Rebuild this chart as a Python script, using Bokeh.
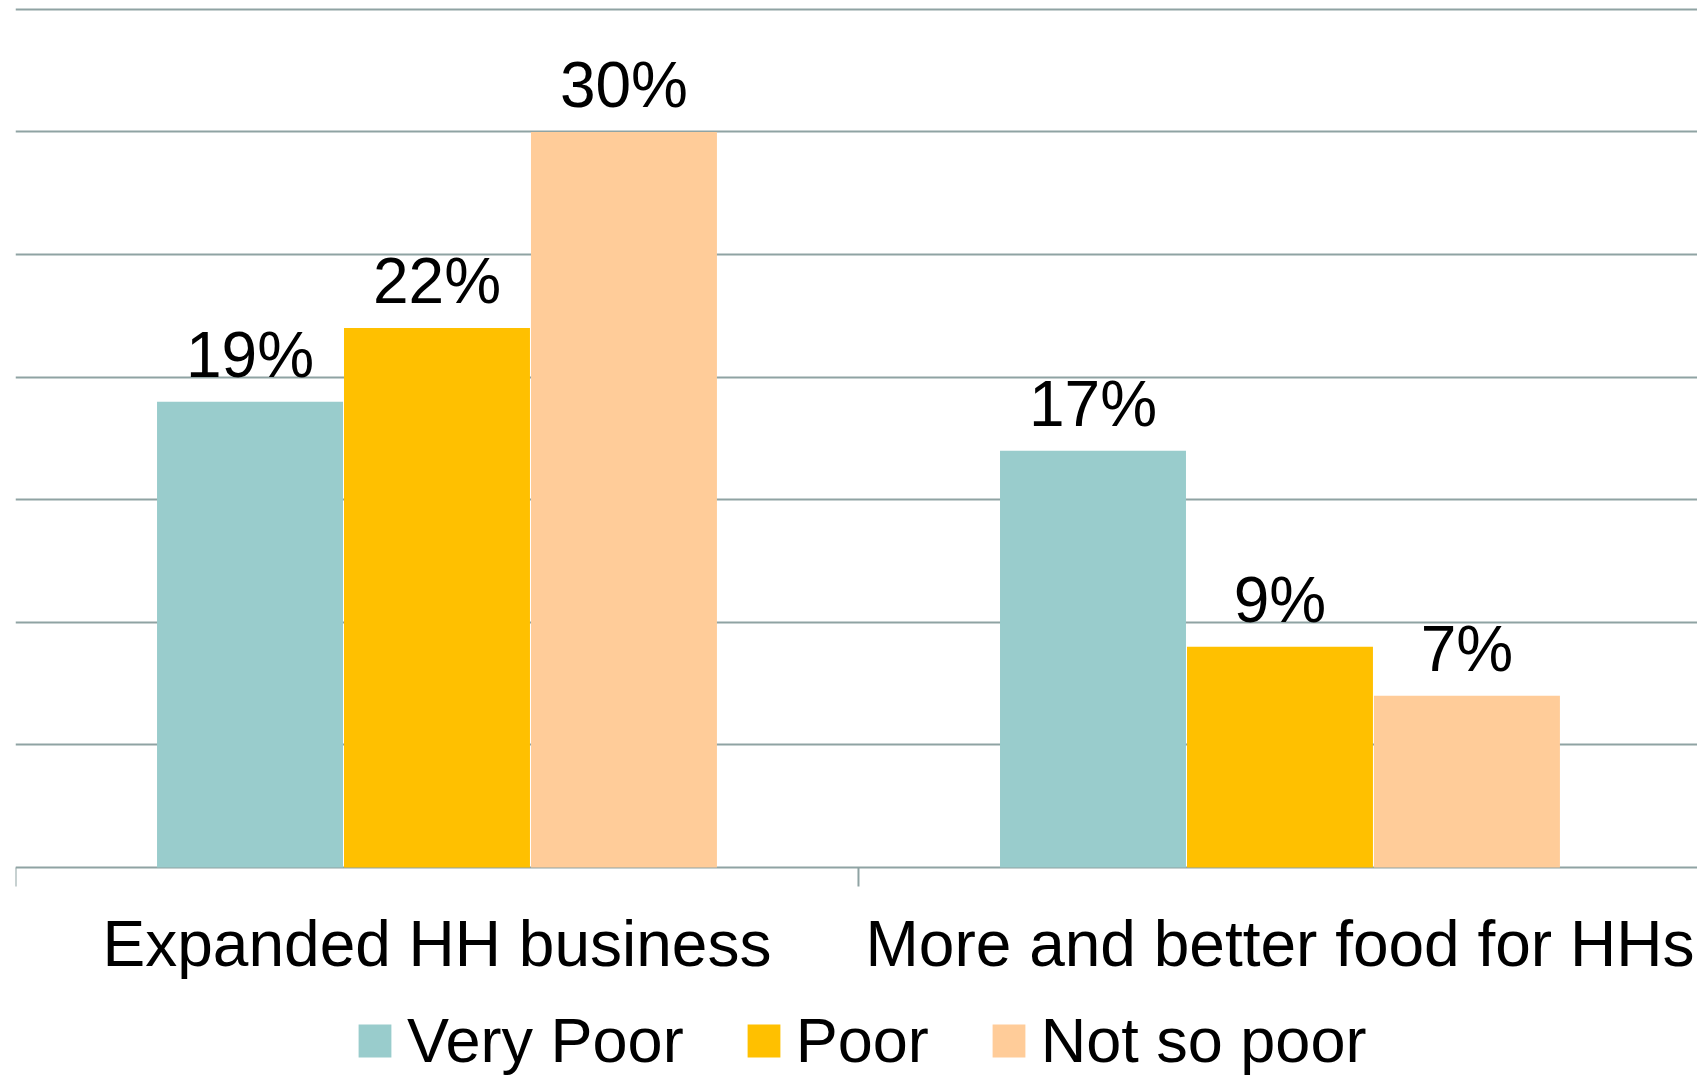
from bokeh.plotting import figure
from bokeh.models import (ColumnDataSource, FixedTicker, Grid, Legend, LegendItem, Range1d)
from bokeh.embed import file_html
from bokeh.resources import INLINE
from bokeh.core.properties import value

categories = ["Expanded HH business", "More and better food for HHs"]
series = ["Very Poor", "Poor", "Not so poor"]
very_poor = [19, 17]
poor = [22, 9]
not_so_poor = [30, 7]
y_ticks = [0, 5, 10, 15, 20, 25, 30, 35]
colors = ["#99CCCC", "#FFC000", "#FFCC99"]

FONT = "Liberation Sans"
FS = "64px"
GRID_C = "#8FA3A3"

W, H = 1697, 1076
Y_TOP, Y_BOTTOM = 35.36, -8.524          # frame spans the whole canvas height
PX = (Y_TOP - Y_BOTTOM) / H               # data units per pixel

p = figure(width=W, height=H, output_backend="svg", toolbar_location=None,
           x_axis_location=None, y_axis_location=None,
           x_range=Range1d(0, 1.9953), y_range=Range1d(Y_BOTTOM, Y_TOP),
           min_border_left=15, min_border_right=0, min_border_top=0, min_border_bottom=0,
           outline_line_color=None)
p.grid.visible = False

grid = Grid(dimension=1, ticker=FixedTicker(ticks=y_ticks),
            grid_line_color=GRID_C, grid_line_width=2)
p.add_layout(grid)

n = len(categories)
centers = [i + 0.5 for i in range(n)]
offsets = [-0.2218, 0.0, 0.2218]
width = 0.2206
all_vals = [very_poor, poor, not_so_poor]

renderers = []
for vals, off, col, name in zip(all_vals, offsets, colors, series):
    src = ColumnDataSource(dict(x=[c + off for c in centers], top=vals,
                                lab=[f"{v}%" for v in vals]))
    r = p.vbar(x="x", top="top", bottom=0, width=width, source=src,
               fill_color=col, line_color=None)
    p.text(x="x", y="top", text="lab", source=src, text_align="center",
           text_baseline="bottom", y_offset=-11, text_font=value(FONT),
           text_font_size=FS, text_color="black")
    renderers.append((name, r))

# category boundary tick marks below the baseline
bounds = list(range(n + 1))
p.segment(x0=bounds, y0=[0] * len(bounds), x1=bounds, y1=[-19 * PX] * len(bounds),
          line_color=GRID_C, line_width=2)

# category labels
p.text(x=centers, y=[0] * n, text=categories, text_align="center",
       text_baseline="bottom", y_offset=113, text_font=value(FONT),
       text_font_size=FS, text_color="black")

legend = Legend(items=[LegendItem(label=nm, renderers=[r]) for nm, r in renderers],
                orientation="horizontal", location=(339, 0),
                label_text_font=FONT, label_text_font_size="63px", label_text_color="black",
                glyph_width=41, glyph_height=41, label_standoff=12, spacing=59,
                border_line_color=None, background_fill_alpha=0, padding=0, margin=0)
p.add_layout(legend, "center")

open("out.html", "w").write(file_html(p, INLINE))
